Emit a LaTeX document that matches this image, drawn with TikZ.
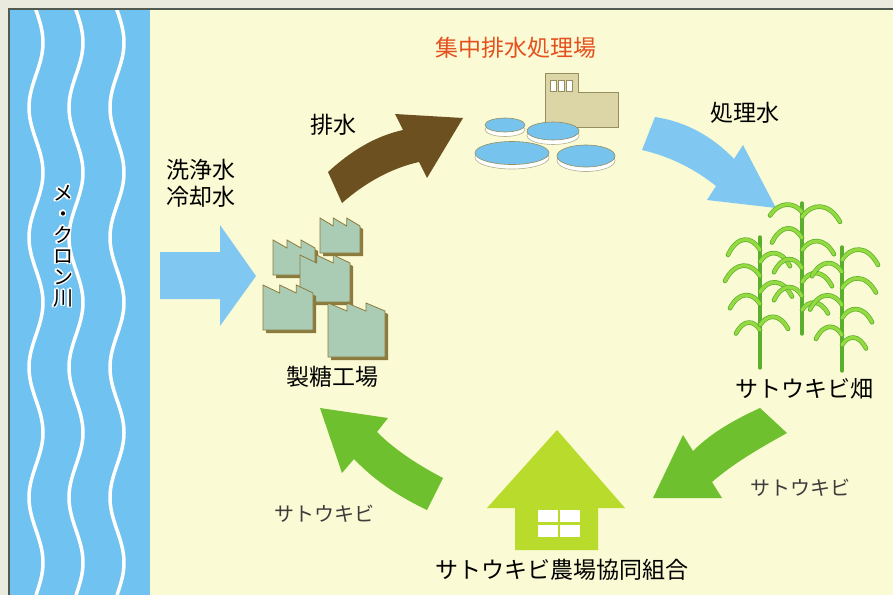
\documentclass[tikz,border=0pt]{standalone}
\usepackage{fontspec}
\setmainfont{Noto Sans CJK JP}
\definecolor{paper}{RGB}{250,250,212}
\definecolor{margin}{RGB}{234,234,222}
\definecolor{edgeline}{RGB}{80,90,80}
\definecolor{riverblue}{RGB}{112,194,240}
\definecolor{flowblue}{RGB}{128,200,242}
\definecolor{drainbrown}{RGB}{108,80,32}
\definecolor{canegreen}{RGB}{110,192,46}
\definecolor{housegreen}{RGB}{185,220,44}
\definecolor{factfill}{RGB}{170,204,180}
\definecolor{factshade}{RGB}{140,122,60}
\definecolor{plantfill}{RGB}{220,213,166}
\definecolor{plantedge}{RGB}{150,142,96}
\definecolor{tankblue}{RGB}{118,196,238}
\definecolor{leaflight}{RGB}{148,218,64}
\definecolor{leafdark}{RGB}{90,176,44}
\definecolor{titlered}{RGB}{228,80,30}
\definecolor{labelgray}{RGB}{60,60,60}
\newcommand\factory[5]{% name, left, top, width, height
  \fill[factshade] ({#2+3},{#3+#5+3}) -- ({#2+3},{#3+3}) -- ({#2+3+#4/3},{#3+11}) -- ({#2+3+#4/3},{#3+3})
    -- ({#2+3+2*#4/3},{#3+11}) -- ({#2+3+2*#4/3},{#3+3}) -- ({#2+3+#4},{#3+11}) -- ({#2+3+#4},{#3+#5+3}) -- cycle;
  \filldraw[fill=factfill,draw=factshade,line width=0.8pt] (#2,{#3+#5}) -- (#2,#3) -- ({#2+#4/3},{#3+8}) -- ({#2+#4/3},#3)
    -- ({#2+2*#4/3},{#3+8}) -- ({#2+2*#4/3},#3) -- ({#2+#4},{#3+8}) -- ({#2+#4},{#3+#5}) -- cycle;
  \coordinate (#1) at ({#2+#4/2},{#3+#5/2});}
\newcommand\tank[5]{% name, cx, cy, rx, ry
  \filldraw[fill=white,draw=plantedge!70,line width=0.6pt] (#2,{#3+4.5}) ellipse [x radius=#4, y radius=#5];
  \filldraw[fill=tankblue,draw=plantedge,line width=0.6pt] (#2,#3) ellipse [x radius=#4, y radius=#5];
  \coordinate (#1) at (#2,#3);}
\newcommand\leaf[4]{% stalk x, stalk y, reach (signed), rise
  \draw[leafline] (#1,#2) .. controls ({#1+0.25*#3},{#2-#4}) and ({#1+0.7*#3},{#2-1.1*#4}) .. ({#1+#3},{#2+0.35*#4});}
\begin{document}
\begin{tikzpicture}[x=1pt,y=-1pt,
  label/.style={font=\fontsize{23}{27}\selectfont,text=black,inner sep=0pt},
  softlabel/.style={font=\fontsize{20}{24}\selectfont,text=labelgray,inner sep=0pt},
  rivertext/.style={font=\fontsize{20}{21}\selectfont,align=center,inner sep=0pt},
  waveline/.style={white,line width=3.5pt},
  stalkline/.style={draw=leafdark,line width=3.4pt,line cap=round},
  leafline/.style={draw=leafdark,double=leaflight,double distance=3.2pt,line width=0.7pt,line cap=round}]
\useasboundingbox (0,0) rectangle (893,595);
% page, margin and frame
\fill[margin] (0,0) rectangle (893,595);
\fill[paper] (9,9) rectangle (893,595);
% river with waves (wavelength 130)
\fill[riverblue] (9,9) rectangle (150,595);
\foreach \cx in {36,76,117}
  \draw[waveline] plot[domain=9:595,samples=120,smooth] ({\cx+7*sin((\x-10)*2.769)},\x);
\draw[edgeline,line width=1.2pt] (9,595) -- (9,9) -- (893,9);
% river name with white halo
\foreach \dx/\dy [count=\i] in {-1.6/0,1.6/0,0/-1.6,0/1.6,-1.1/-1.1,1.1/1.1,-1.1/1.1,1.1/-1.1}
  \node[rivertext,text=white] (halo\i) at ({63+\dx},{246+\dy}) {メ\\・\\ク\\ロ\\ン\\川};
\node[rivertext,text=black] (river) at (63,246) {メ\\・\\ク\\ロ\\ン\\川};
% intake arrow
\fill[flowblue] (160,252) -- (220,252) -- (220,225) -- (256,276) -- (220,326) -- (220,299) -- (160,299) -- cycle;
% drainage arrow
\fill[drainbrown] (328,172) .. controls (352,150) and (376,136) .. (403,130) -- (395,114) -- (463,118) -- (427,178)
  -- (419,162) .. controls (392,168) and (366,182) .. (342,203) -- cycle;
% treated water arrow
\fill[flowblue] (655,117) .. controls (688,122) and (714,138) .. (734,159) -- (743,145) -- (776,208) -- (707,200)
  -- (716,186) .. controls (696,170) and (672,157) .. (642,150) -- cycle;
% cane to cooperative
\fill[canegreen] (760,408) .. controls (736,419) and (712,432) .. (693,451) -- (683,435) -- (653,498) -- (722,498)
  -- (712,482) .. controls (734,463) and (760,448) .. (787,433) -- cycle;
% cane to sugar mill
\fill[canegreen] (443,478) .. controls (420,466) and (396,451) .. (377,432) -- (388,418) -- (320,408) -- (342,473)
  -- (354,459) .. controls (376,482) and (400,497) .. (427,510) -- cycle;
% sugar mill
\factory{f2}{273}{240}{42}{35}
\factory{f1}{320}{218}{40}{35}
\factory{f3}{300}{255}{50}{47}
\factory{f4}{263}{285}{50}{45}
\factory{f5}{328}{303}{57}{54}
% treatment plant
\filldraw[fill=plantfill,draw=plantedge,line width=0.8pt] (545,127) -- (545,73) -- (578,73) -- (578,92) -- (618,92) -- (618,127) -- cycle;
\foreach \wx in {550,558,566}
  \draw[plantedge,fill=white,line width=0.6pt] (\wx,80) rectangle ({\wx+6},91);
\tank{t1}{505}{125}{20}{7}
\tank{t2}{553}{131}{26}{9}
\tank{t3}{512}{153}{37}{11.5}
\tank{t4}{586}{156}{29}{11}
% sugar cane field
\draw[stalkline] (760,368) -- (760,237);
\draw[stalkline] (802,334) -- (802,203);
\draw[stalkline] (842,371) -- (842,247);
\leaf{760}{250}{-32}{14}
\leaf{760}{276}{-35}{14}
\leaf{760}{304}{-30}{12}
\leaf{760}{330}{-24}{10}
\leaf{760}{262}{30}{12}
\leaf{760}{292}{32}{13}
\leaf{760}{325}{28}{11}
\leaf{802}{212}{-32}{10}
\leaf{802}{238}{-30}{13}
\leaf{802}{268}{-28}{12}
\leaf{802}{296}{-28}{12}
\leaf{802}{217}{38}{14}
\leaf{802}{250}{32}{12}
\leaf{802}{282}{30}{12}
\leaf{802}{310}{26}{10}
\leaf{842}{260}{36}{14}
\leaf{842}{288}{34}{13}
\leaf{842}{318}{30}{12}
\leaf{842}{345}{24}{10}
\leaf{842}{272}{-30}{12}
\leaf{842}{305}{-32}{13}
\leaf{842}{335}{-26}{11}
% cooperative house
\fill[housegreen] (557,430) -- (625,508) -- (598,508) -- (598,550) -- (515,550) -- (515,508) -- (487,508) -- cycle;
\fill[white] (538,510) rectangle (580,537);
\draw[housegreen,line width=2.5pt] (559,510) -- (559,537) (538,523.5) -- (580,523.5);
\coordinate (house) at (557,500);
% labels
\node[label] (wash) at (201,170) {洗浄水};
\node[label] (cool) at (201,197) {冷却水};
\node[label] (drain) at (333,125) {排水};
\node[label,text=titlered] (plant) at (516,48) {集中排水処理場};
\node[label] (treated) at (745,113) {処理水};
\node[label] (mill) at (332,377) {製糖工場};
\node[label] (field) at (804,389) {サトウキビ畑};
\node[softlabel] (caneR) at (800,488) {サトウキビ};
\node[softlabel] (caneL) at (324,514) {サトウキビ};
\node[label] (coop) at (562,570) {サトウキビ農場協同組合};
\end{tikzpicture}
\end{document}
